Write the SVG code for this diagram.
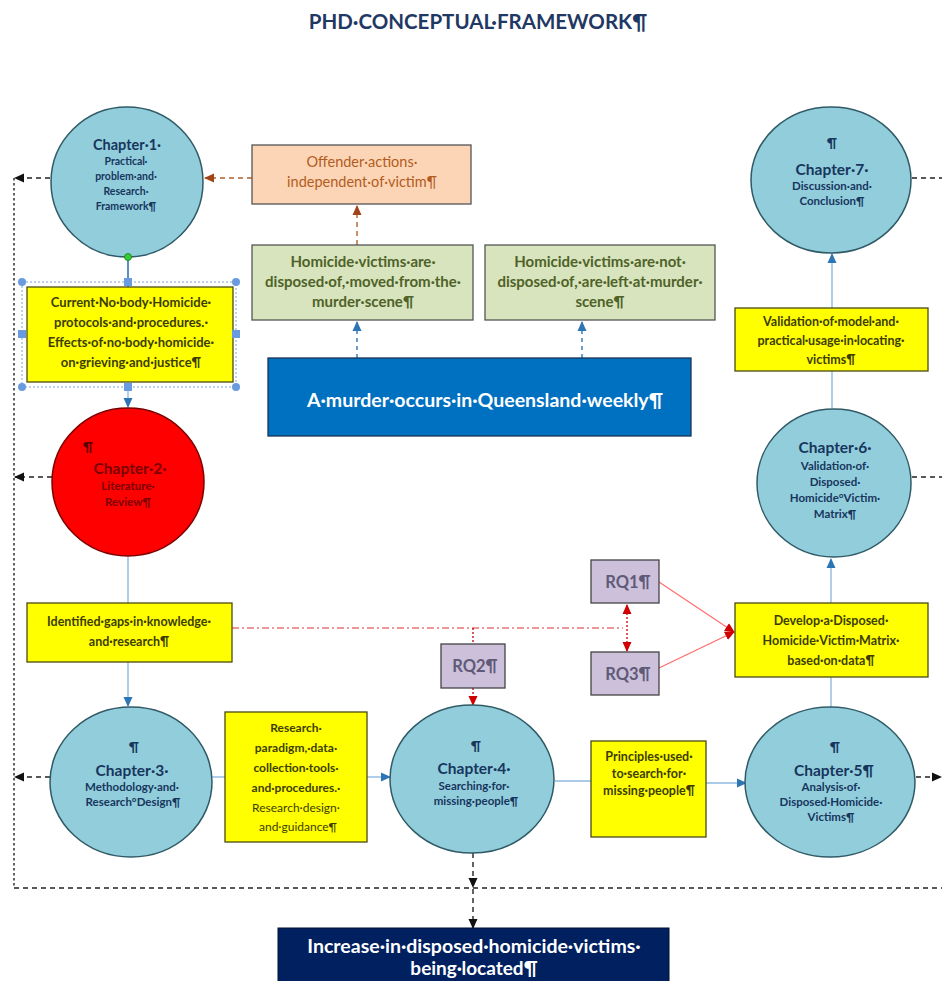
<svg xmlns="http://www.w3.org/2000/svg" width="942" height="981" viewBox="0 0 942 981">
<defs>
<style>
text{font-family:Lato,"Open Sans","Liberation Sans",sans-serif;text-anchor:middle}
.title{font-size:20.5px;font-weight:700;fill:#1f3864}
.circ{fill:#92cddc;stroke:#2f5a66;stroke-width:1.5}
.ch{font-size:15.5px;font-weight:700;fill:#17365d}
.cs{font-size:11.5px;font-weight:700;fill:#17365d}
.yel{fill:#ffff00;stroke:#4a4a10;stroke-width:1.3}
.yt{font-size:12.5px;font-weight:700;fill:#3d3d00}
.ytr{font-size:12px;font-weight:400;fill:#3d3d00}
.grn{fill:#d7e4bd;stroke:#555;stroke-width:1.3}
.gt{font-size:15px;font-weight:700;fill:#4f6228}
.rq{fill:#ccc0da;stroke:#444;stroke-width:1.3}
.rqt{font-size:16.5px;font-weight:700;fill:#5f5a78}
.wt{font-size:19.5px;font-weight:700;fill:#ffffff}
.blk{fill:none;stroke:#222;stroke-width:1.4;stroke-dasharray:5 4}
.dot{fill:none;stroke:#222;stroke-width:1.4;stroke-dasharray:2.5 2.5}
.brn{fill:none;stroke:#b0622a;stroke-width:1.4;stroke-dasharray:5 4}
.bld{fill:none;stroke:#2e75b6;stroke-width:1.4;stroke-dasharray:4 4}
.lb{fill:none;stroke:#8fb8e0;stroke-width:1.4}
.red{fill:none;stroke:#ff6b6b;stroke-width:1.2}
.rdd{fill:none;stroke:#e03030;stroke-width:1.2;stroke-dasharray:7 3 2 3}
.rdt{fill:none;stroke:#c00000;stroke-width:1.3;stroke-dasharray:2 2}
</style>
<marker id="ak" markerWidth="10" markerHeight="10" refX="9" refY="5" orient="auto" markerUnits="userSpaceOnUse"><path d="M0,0.5 L10,5 L0,9.5 Z" fill="#111"/></marker>
<marker id="ab" markerWidth="10" markerHeight="10" refX="9" refY="5" orient="auto" markerUnits="userSpaceOnUse"><path d="M0,0.5 L10,5 L0,9.5 Z" fill="#2e75b6"/></marker>
<marker id="ao" markerWidth="10" markerHeight="10" refX="9" refY="5" orient="auto" markerUnits="userSpaceOnUse"><path d="M0,0.5 L10,5 L0,9.5 Z" fill="#a0451a"/></marker>
<marker id="ar" markerWidth="10" markerHeight="10" refX="9" refY="5" orient="auto" markerUnits="userSpaceOnUse"><path d="M0,0.5 L10,5 L0,9.5 Z" fill="#d00000"/></marker>
<marker id="ars" markerWidth="10" markerHeight="10" refX="1" refY="5" orient="auto" markerUnits="userSpaceOnUse"><path d="M10,0.5 L0,5 L10,9.5 Z" fill="#d00000"/></marker>
</defs>
<rect width="942" height="981" fill="#ffffff"/>
<text class="title" x="478" y="29">PHD·CONCEPTUAL·FRAMEWORK¶</text>

<g id="connectors">
<line class="blk" x1="50" y1="178" x2="15" y2="178" marker-end="url(#ak)"/>
<line class="blk" x1="52" y1="477" x2="15" y2="477" marker-end="url(#ak)"/>
<line class="blk" x1="50" y1="777" x2="15" y2="777" marker-end="url(#ak)"/>
<line class="dot" x1="14" y1="178" x2="14" y2="888"/>
<line class="blk" x1="14" y1="888" x2="942" y2="888"/>
<line class="blk" x1="912" y1="178" x2="942" y2="178"/>
<line class="blk" x1="912" y1="477" x2="942" y2="477"/>
<line class="blk" x1="916" y1="777" x2="941" y2="777" marker-end="url(#ak)"/>
<line class="brn" x1="252" y1="178" x2="205" y2="178" marker-end="url(#ao)"/>
<line class="brn" x1="357" y1="245" x2="357" y2="206" marker-end="url(#ao)"/>
<line class="bld" x1="357" y1="358" x2="357" y2="322" marker-end="url(#ab)"/>
<line class="bld" x1="582" y1="358" x2="582" y2="322" marker-end="url(#ab)"/>
<line x1="128" y1="258" x2="128" y2="287" stroke="#2e75b6" stroke-width="1.6"/>
<line class="lb" x1="128" y1="387" x2="128" y2="407" stroke="#2e75b6" marker-end="url(#ab)"/>
<line class="lb" x1="128" y1="557" x2="128" y2="603"/>
<line class="lb" x1="128" y1="662" x2="128" y2="706" marker-end="url(#ab)"/>
<line class="rdd" x1="232" y1="628" x2="623" y2="628"/>
<line class="rdt" x1="473" y1="628" x2="473" y2="644"/>
<line class="rdt" x1="473" y1="688" x2="473" y2="705" marker-end="url(#ar)"/>
<line class="rdt" x1="627" y1="605" x2="627" y2="651" marker-start="url(#ars)" marker-end="url(#ar)"/>
<line class="red" x1="659" y1="582" x2="734" y2="632" marker-end="url(#ar)"/>
<line class="red" x1="659" y1="668" x2="734" y2="632" marker-end="url(#ar)"/>
<line class="lb" x1="212" y1="777" x2="225" y2="777"/>
<line class="lb" x1="367" y1="777" x2="390" y2="777" marker-end="url(#ab)"/>
<line class="lb" x1="555" y1="781" x2="591" y2="781"/>
<line class="lb" x1="706" y1="783" x2="746" y2="783" marker-end="url(#ab)"/>
<line class="lb" x1="831" y1="707" x2="831" y2="677"/>
<line class="lb" x1="831" y1="603" x2="831" y2="559" marker-end="url(#ab)"/>
<line class="lb" x1="832" y1="408" x2="832" y2="371"/>
<line class="lb" x1="832" y1="308" x2="832" y2="254" marker-end="url(#ab)"/>
<line class="blk" x1="473" y1="853" x2="473" y2="887" marker-end="url(#ak)"/>
<line class="blk" x1="473" y1="889" x2="473" y2="928" marker-end="url(#ak)"/>
</g>

<g id="ch1">
<ellipse class="circ" cx="127" cy="182" rx="76" ry="75"/>
<text class="ch" x="127" y="150" style="font-size:14.5px">Chapter·1·</text>
<text class="cs" x="126" y="165" style="font-size:10.5px">Practical·</text>
<text class="cs" x="126" y="180" style="font-size:10.5px">problem·and·</text>
<text class="cs" x="126" y="195" style="font-size:10.5px">Research·</text>
<text class="cs" x="126" y="210" style="font-size:10.5px">Framework¶</text>
<circle cx="128" cy="257" r="3.5" fill="#33cc33" stroke="#1a7a1a" stroke-width="0.8"/>
</g>

<g id="box-protocols">
<rect x="22" y="282" width="214" height="105" fill="none" stroke="#7aa6dc" stroke-width="1" stroke-dasharray="2 2"/>
<rect class="yel" x="27" y="287" width="206" height="95"/>
<text class="yt" x="131" y="307" style="font-size:13px">Current·No·body·Homicide·</text>
<text class="yt" x="131" y="327" style="font-size:13px">protocols·and·procedures.·</text>
<text class="yt" x="131" y="347" style="font-size:13px">Effects·of·no·body·homicide·</text>
<text class="yt" x="131" y="367" style="font-size:13px">on·grieving·and·justice¶</text>
<g fill="#6a9be0">
<circle cx="22" cy="282" r="4"/><circle cx="236" cy="282" r="4"/><circle cx="22" cy="387" r="4"/><circle cx="236" cy="387" r="4"/>
<rect x="124" y="278" width="8" height="8"/><rect x="124" y="383" width="8" height="8"/><rect x="18" y="330" width="8" height="8"/><rect x="232" y="330" width="8" height="8"/>
</g>
</g>

<g id="ch2">
<ellipse cx="128" cy="482" rx="76" ry="74" fill="#ff0000" stroke="#7a0000" stroke-width="1.5"/>
<text x="88" y="452" style="font-size:14px;font-weight:700;fill:#5a0000">¶</text>
<text class="ch" x="130" y="474" style="fill:#7a0000">Chapter·2·</text>
<text class="cs" x="128" y="490" style="fill:#7a0000">Literature·</text>
<text class="cs" x="128" y="506" style="fill:#7a0000">Review¶</text>
</g>

<g id="box-gaps">
<rect class="yel" x="27" y="603" width="205" height="59"/>
<text class="yt" x="129" y="626">Identified·gaps·in·knowledge·</text>
<text class="yt" x="129" y="646">and·research¶</text>
</g>

<g id="ch3">
<ellipse class="circ" cx="131" cy="782" rx="81" ry="75"/>
<text x="134" y="752" style="font-size:14px;font-weight:700;fill:#17365d">¶</text>
<text class="ch" x="132" y="776">Chapter·3·</text>
<text class="cs" x="132" y="791">Methodology·and·</text>
<text class="cs" x="133" y="806">Research°Design¶</text>
</g>

<g id="box-paradigm">
<rect class="yel" x="225" y="712" width="142" height="130"/>
<text class="yt" x="296" y="732" style="font-size:12px">Research·</text>
<text class="yt" x="296" y="752" style="font-size:12px">paradigm,·data·</text>
<text class="yt" x="296" y="772" style="font-size:12px">collection·tools·</text>
<text class="yt" x="296" y="792" style="font-size:12px">and·procedures.·</text>
<text class="ytr" x="296" y="812">Research·design·</text>
<text class="ytr" x="298" y="831">and·guidance¶</text>
</g>

<g id="ch4">
<ellipse class="circ" cx="472" cy="779" rx="82" ry="74"/>
<text x="476" y="751" style="font-size:14px;font-weight:700;fill:#17365d">¶</text>
<text class="ch" x="474" y="774">Chapter·4·</text>
<text class="cs" x="474" y="790">Searching·for·</text>
<text class="cs" x="476" y="805">missing·people¶</text>
</g>

<g id="box-principles">
<rect class="yel" x="591" y="741" width="115" height="96"/>
<text class="yt" x="649" y="761">Principles·used·</text>
<text class="yt" x="649" y="778">to·search·for·</text>
<text class="yt" x="649" y="795">missing·people¶</text>
</g>

<g id="ch5">
<ellipse class="circ" cx="830" cy="782" rx="85" ry="75"/>
<text x="835" y="752" style="font-size:14px;font-weight:700;fill:#17365d">¶</text>
<text class="ch" x="834" y="776">Chapter·5¶</text>
<text class="cs" x="831" y="791">Analysis·of·</text>
<text class="cs" x="831" y="806">Disposed·Homicide·</text>
<text class="cs" x="831" y="821">Victims¶</text>
</g>

<g id="box-develop">
<rect class="yel" x="735" y="603" width="193" height="74"/>
<text class="yt" x="831" y="625">Develop·a·Disposed·</text>
<text class="yt" x="831" y="645">Homicide·Victim·Matrix·</text>
<text class="yt" x="831" y="665">based·on·data¶</text>
</g>

<g id="rq1">
<rect class="rq" x="591" y="560" width="68" height="43"/>
<text class="rqt" x="628" y="588">RQ1¶</text>
</g>
<g id="rq2">
<rect class="rq" x="441" y="644" width="64" height="44"/>
<text class="rqt" x="475" y="672">RQ2¶</text>
</g>
<g id="rq3">
<rect class="rq" x="591" y="652" width="68" height="43"/>
<text class="rqt" x="628" y="680">RQ3¶</text>
</g>

<g id="ch6">
<ellipse class="circ" cx="834" cy="483" rx="77" ry="74"/>
<text class="ch" x="835" y="453">Chapter·6·</text>
<text class="cs" x="835" y="470">Validation·of·</text>
<text class="cs" x="835" y="486">Disposed·</text>
<text class="cs" x="835" y="502">Homicide°Victim·</text>
<text class="cs" x="835" y="518">Matrix¶</text>
</g>

<g id="box-validation">
<rect class="yel" x="735" y="308" width="193" height="63"/>
<text class="yt" x="831" y="326">Validation·of·model·and·</text>
<text class="yt" x="831" y="345">practical·usage·in·locating·</text>
<text class="yt" x="831" y="364">victims¶</text>
</g>

<g id="ch7">
<ellipse class="circ" cx="831" cy="180" rx="80" ry="73"/>
<text x="832" y="148" style="font-size:14px;font-weight:700;fill:#17365d">¶</text>
<text class="ch" x="832" y="175">Chapter·7·</text>
<text class="cs" x="832" y="190">Discussion·and·</text>
<text class="cs" x="832" y="205">Conclusion¶</text>
</g>

<g id="box-offender">
<rect x="252" y="145" width="219" height="59" fill="#fbd5b5" stroke="#555" stroke-width="1.3"/>
<text x="362" y="167" style="font-size:14.5px;fill:#b35c1e">Offender·actions·</text>
<text x="362" y="187" style="font-size:14.5px;fill:#b35c1e">independent·of·victim¶</text>
</g>

<g id="box-disposed">
<rect class="grn" x="252" y="245" width="221" height="75"/>
<text class="gt" x="363" y="267">Homicide·victims·are·</text>
<text class="gt" x="363" y="287">disposed·of,·moved·from·the·</text>
<text class="gt" x="363" y="307">murder·scene¶</text>
</g>

<g id="box-notdisposed">
<rect class="grn" x="485" y="245" width="230" height="75"/>
<text class="gt" x="600" y="267">Homicide·victims·are·not·</text>
<text class="gt" x="600" y="287">disposed·of,·are·left·at·murder·</text>
<text class="gt" x="600" y="307">scene¶</text>
</g>

<g id="box-murder">
<rect x="268" y="358" width="423" height="78" fill="#0070c0" stroke="#1a3550" stroke-width="1.3"/>
<text class="wt" x="485" y="407">A·murder·occurs·in·Queensland·weekly¶</text>
</g>

<g id="box-increase">
<rect x="278" y="928" width="391" height="60" fill="#002060" stroke="#001030" stroke-width="1"/>
<text class="wt" x="474" y="953">Increase·in·disposed·homicide·victims·</text>
<text class="wt" x="474" y="975" style="font-size:19px">being·located¶</text>
</g>
</svg>
